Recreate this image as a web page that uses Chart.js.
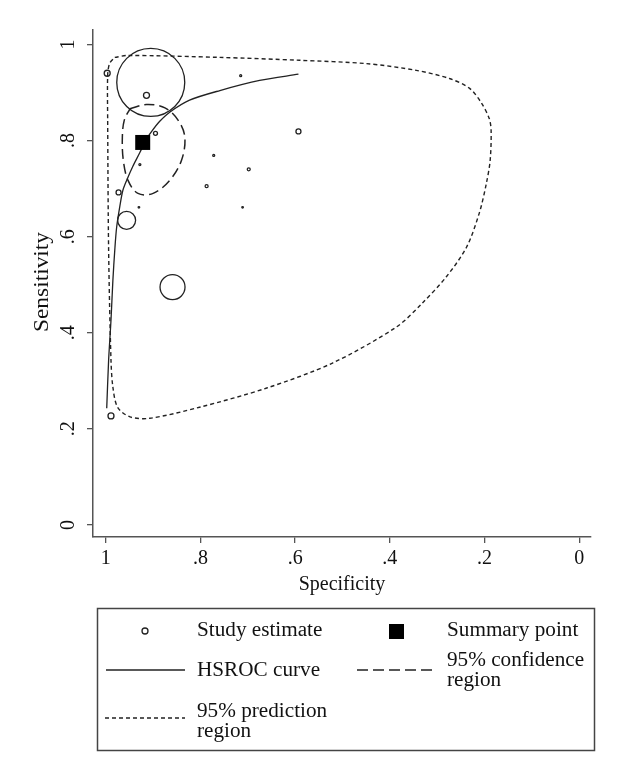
<!DOCTYPE html>
<html>
<head>
<meta charset="utf-8">
<title>HSROC plot</title>
<script src="https://cdn.jsdelivr.net/npm/chart.js@4.4.1/dist/chart.umd.min.js"></script>
<style>
    body { margin: 0; background: #fff; }
    #chartCanvas { display: block; }
</style>
</head>
<body>
<canvas id="chartCanvas" width="617" height="773"></canvas>
<script>
// axis ticks
const specTicks = [1, 0.8, 0.6, 0.4, 0.2, 0];
const specTickLabels = ["1", ".8", ".6", ".4", ".2", "0"];
const sensTicks = [0, 0.2, 0.4, 0.6, 0.8, 1];
const sensTickLabels = ["0", ".2", ".4", ".6", ".8", "1"];

// study estimates (weight = bubble radius)
const studySpec = [0.997, 0.905, 0.914, 0.895, 0.715, 0.593, 0.772, 0.698, 0.787, 0.928, 0.973, 0.930, 0.711, 0.956, 0.859, 0.989];
const studySens = [0.940, 0.921, 0.894, 0.815, 0.935, 0.819, 0.769, 0.740, 0.705, 0.750, 0.692, 0.661, 0.661, 0.634, 0.495, 0.227];
const studyWeight = [3, 34, 3, 2, 1, 2.5, 1, 1.5, 1.5, 1, 2.5, 0.8, 0.8, 9, 12.5, 3];

// summary point
const summarySpec = [0.922];
const summarySens = [0.796];

// HSROC curve
const hsrocSpec = [0.998, 0.994, 0.989, 0.985, 0.981, 0.977, 0.970, 0.964, 0.956, 0.943, 0.928, 0.916, 0.903, 0.886, 0.865, 0.823, 0.759, 0.675, 0.593];
const hsrocSens = [0.243, 0.343, 0.426, 0.509, 0.572, 0.620, 0.665, 0.696, 0.717, 0.746, 0.775, 0.800, 0.819, 0.840, 0.859, 0.884, 0.904, 0.925, 0.938];

// 95% confidence region
const confSpec = [0.949, 0.914, 0.875, 0.847, 0.833, 0.840, 0.865, 0.900, 0.932, 0.953, 0.963, 0.965, 0.961, 0.949];
const confSens = [0.866, 0.875, 0.868, 0.842, 0.807, 0.759, 0.717, 0.690, 0.690, 0.717, 0.759, 0.807, 0.842, 0.866];

// 95% prediction region
const predSpec = [0.981, 0.954, 0.759, 0.591, 0.449, 0.344, 0.274, 0.232, 0.207, 0.190, 0.186, 0.188, 0.196, 0.211, 0.238, 0.281, 0.331, 0.386, 0.521, 0.660, 0.802, 0.907, 0.949, 0.975, 0.985, 0.989, 0.994, 0.996, 0.996, 0.992, 0.981];
const predSens = [0.973, 0.977, 0.973, 0.967, 0.960, 0.946, 0.929, 0.909, 0.879, 0.846, 0.821, 0.759, 0.711, 0.649, 0.578, 0.516, 0.462, 0.412, 0.337, 0.285, 0.245, 0.222, 0.225, 0.245, 0.287, 0.343, 0.572, 0.842, 0.936, 0.960, 0.973];

const serif = '"Liberation Serif", "Times New Roman", serif';
const ink = "#111";
const axisColor = "#555";

function toPoints(xs, ys) {
    return xs.map((x, i) => ({ x: x, y: ys[i] }));
}

// y tick labels, y title and the boxed legend, Stata style
const extrasPlugin = {
    id: "extras",
    afterDraw(chart) {
        const ctx = chart.ctx;
        const yScale = chart.scales.y;

        ctx.save();
        ctx.fillStyle = ink;
        ctx.font = "20px " + serif;
        ctx.textAlign = "center";
        ctx.textBaseline = "middle";
        sensTicks.forEach((v, i) => {
            ctx.save();
            ctx.translate(69, yScale.getPixelForValue(v));
            ctx.rotate(-Math.PI / 2);
            ctx.fillText(sensTickLabels[i], 0, 0);
            ctx.restore();
        });

        ctx.save();
        ctx.translate(43, 282);
        ctx.rotate(-Math.PI / 2);
        let w = ctx.measureText("Sensitivity").width;
        ctx.scale(100 / w, 1);
        ctx.fillText("Sensitivity", 0, 0);
        ctx.restore();

        // legend box
        ctx.strokeStyle = "#444";
        ctx.lineWidth = 1.5;
        ctx.strokeRect(97.5, 608.5, 497, 142);

        ctx.strokeStyle = "#222";
        ctx.lineWidth = 1.3;
        ctx.beginPath();
        ctx.arc(145, 631, 3, 0, Math.PI * 2);
        ctx.stroke();

        ctx.fillStyle = "#000";
        ctx.fillRect(389, 624, 15, 15);

        let lines = [
            { x0: 106, x1: 185, y: 670, dash: [] },
            { x0: 357, x1: 435, y: 670, dash: [11, 5] },
            { x0: 105, x1: 185, y: 718, dash: [4, 3] },
        ];
        lines.forEach((l) => {
            ctx.setLineDash(l.dash);
            ctx.beginPath();
            ctx.moveTo(l.x0, l.y);
            ctx.lineTo(l.x1, l.y);
            ctx.stroke();
        });
        ctx.setLineDash([]);

        ctx.fillStyle = ink;
        ctx.textAlign = "left";
        let texts = [
            ["Study estimate", 197, 631],
            ["Summary point", 447, 631],
            ["HSROC curve", 197, 671],
            ["95% confidence", 447, 661],
            ["region", 447, 681],
            ["95% prediction", 197, 712],
            ["region", 197, 732],
        ];
        texts.forEach((t) => {
            ctx.save();
            ctx.translate(t[1], t[2]);
            ctx.scale(1.06, 1);
            ctx.fillText(t[0], 0, 0);
            ctx.restore();
        });
        ctx.restore();
    },
};

const ctx = document.getElementById("chartCanvas").getContext("2d");

new Chart(ctx, {
    data: {
        datasets: [
            {
                type: "scatter",
                label: "Summary point",
                data: toPoints(summarySpec, summarySens),
                pointStyle: "rect",
                pointRadius: 10.6,
                backgroundColor: "#000",
                borderColor: "#000",
                borderWidth: 0,
                order: 0,
            },
            {
                type: "bubble",
                label: "Study estimate",
                data: studySpec.map((s, i) => ({ x: s, y: studySens[i], r: studyWeight[i] })),
                backgroundColor: "rgba(0,0,0,0)",
                borderColor: "#222",
                borderWidth: 1.3,
                order: 1,
            },
            {
                type: "scatter",
                label: "HSROC curve",
                data: toPoints(hsrocSpec, hsrocSens),
                showLine: true,
                borderColor: "#222",
                borderWidth: 1.3,
                pointRadius: 0,
                tension: 0.3,
                order: 2,
            },
            {
                type: "scatter",
                label: "95% confidence region",
                data: toPoints(confSpec, confSens),
                showLine: true,
                borderColor: "#222",
                borderWidth: 1.5,
                borderDash: [10, 5],
                pointRadius: 0,
                tension: 0.35,
                order: 3,
            },
            {
                type: "scatter",
                label: "95% prediction region",
                data: toPoints(predSpec, predSens),
                showLine: true,
                borderColor: "#222",
                borderWidth: 1.4,
                borderDash: [4, 3],
                pointRadius: 0,
                tension: 0.3,
                order: 4,
            },
        ],
    },
    options: {
        responsive: false,
        animation: false,
        devicePixelRatio: 1,
        events: [],
        layout: {
            autoPadding: false,
            padding: { left: 0, top: 30, right: 26, bottom: 173 },
        },
        plugins: {
            legend: { display: false },
            tooltip: { enabled: false },
        },
        scales: {
            x: {
                type: "linear",
                reverse: true,
                min: -0.025,
                max: 1.027,
                afterFit(scale) {
                    scale.height = 63;
                },
                afterBuildTicks(scale) {
                    scale.ticks = specTicks.map((v) => ({ value: v }));
                },
                ticks: {
                    callback: (v, i) => specTickLabels[i],
                    font: { family: serif, size: 20 },
                    color: ink,
                    padding: 4,
                    maxRotation: 0,
                    autoSkip: false,
                },
                grid: {
                    display: true,
                    drawOnChartArea: false,
                    drawTicks: true,
                    tickLength: 6,
                    color: axisColor,
                    lineWidth: 1.3,
                },
                border: { display: true, color: axisColor, width: 1.5 },
                title: {
                    display: true,
                    text: "Specificity",
                    font: { family: serif, size: 20 },
                    color: ink,
                    padding: { top: 0, bottom: 3 },
                },
            },
            y: {
                type: "linear",
                min: -0.025,
                max: 1.03,
                afterFit(scale) {
                    scale.width = 93;
                },
                afterBuildTicks(scale) {
                    scale.ticks = sensTicks.map((v) => ({ value: v }));
                },
                ticks: { display: false },
                grid: {
                    display: true,
                    drawOnChartArea: false,
                    drawTicks: true,
                    tickLength: 6,
                    color: axisColor,
                    lineWidth: 1.3,
                },
                border: { display: true, color: axisColor, width: 1.5 },
            },
        },
    },
    plugins: [extrasPlugin],
});
</script>
</body>
</html>
